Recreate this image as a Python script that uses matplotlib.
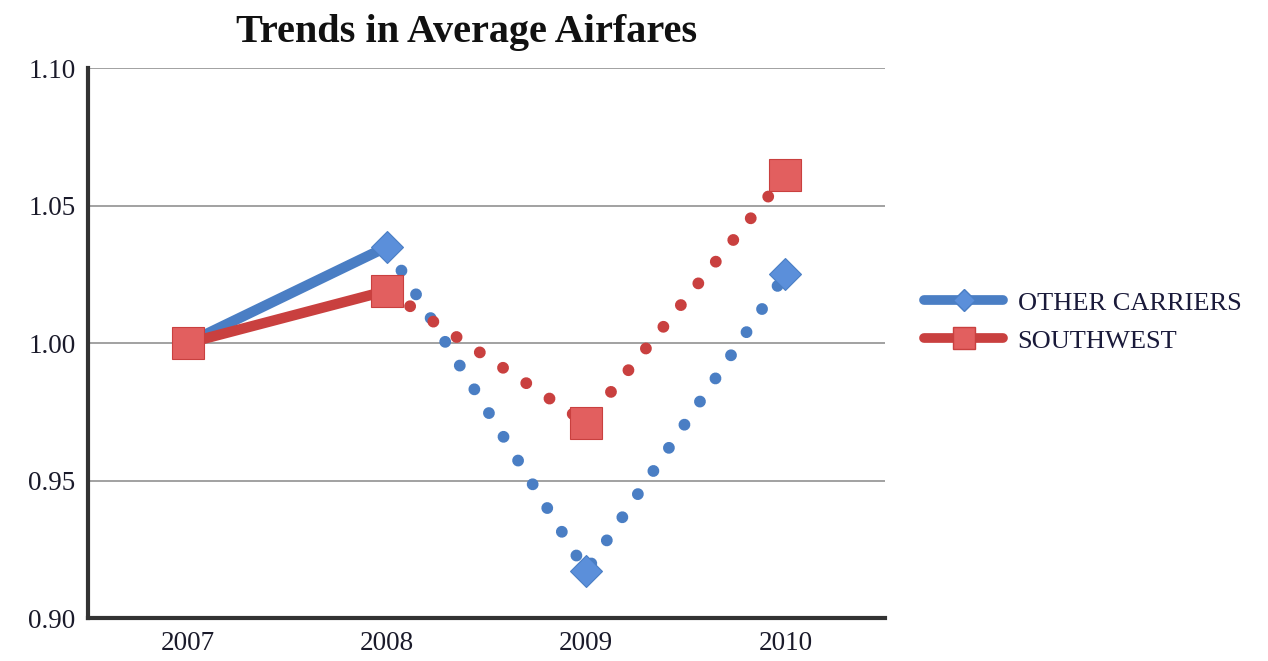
import matplotlib
matplotlib.use("Agg")
import matplotlib.pyplot as plt
from matplotlib.lines import Line2D

years = ["2007", "2008", "2009", "2010"]
other_carriers = [1.000, 1.035, 0.917, 1.025]
southwest = [1.000, 1.019, 0.971, 1.061]
yticks = [0.90, 0.95, 1.00, 1.05, 1.10]

serif = ["Liberation Serif", "DejaVu Serif"]
plt.rcParams["font.family"] = serif

fig = plt.figure(figsize=(12.68, 6.61), dpi=100)
ax = fig.add_axes([0.0694, 0.065, 0.6285, 0.832])

blue_line = "#4A7EC4"
blue_mark = "#5B8FDA"
red_line = "#C9403F"
red_mark = "#E25F5F"

x = list(range(len(years)))
series = [
    (other_carriers, blue_line, blue_mark, "D", 16, "OTHER CARRIERS"),
    (southwest, red_line, red_mark, "s", 23, "SOUTHWEST"),
]

for vals, lc, mc, mk, ms, lab in series:
    ax.plot(x[:2], vals[:2], color=lc, lw=7.5, solid_capstyle="round", zorder=3)
    ax.plot(x[1:], vals[1:], color=lc, lw=8.5, linestyle=(0, (0.01, 2.35)),
            dash_capstyle="round", zorder=3)
for vals, lc, mc, mk, ms, lab in series:
    ax.plot(x, vals, linestyle="none", marker=mk, markersize=ms,
            markerfacecolor=mc, markeredgecolor=lc, markeredgewidth=0.8, zorder=4)

ax.set_xlim(-0.5, 3.5)
ax.set_ylim(0.90, 1.10)
ax.set_yticks(yticks)
ax.set_yticklabels([f"{v:.2f}" for v in yticks])
ax.set_xticks(x)
ax.set_xticklabels(years)
ax.tick_params(axis="both", length=0, labelsize=19.5, labelcolor="#1a1a2a", pad=9)
ax.tick_params(axis="x", pad=9)
ax.yaxis.grid(True, color="#9a9a9a", lw=1.3)
ax.set_axisbelow(True)
for s in ["top", "right"]:
    ax.spines[s].set_visible(False)
for s in ["left", "bottom"]:
    ax.spines[s].set_color("#333333")
    ax.spines[s].set_linewidth(3)

fig.text(0.368, 0.951, "Trends in Average Airfares", ha="center", va="center",
         fontsize=29, fontweight="bold", color="#111111")

handles = [Line2D([0], [0], color=lc, lw=7, solid_capstyle="round", marker=mk,
                  markersize=ms * 0.72, markerfacecolor=mc, markeredgecolor=lc)
           for vals, lc, mc, mk, ms, lab in series]
labels = [s[5] for s in series]
fig.legend(handles, labels, loc="center left", bbox_to_anchor=(0.71, 0.513),
           frameon=False, fontsize=19, handlelength=3.0, labelspacing=0.55,
           handletextpad=0.55, labelcolor="#1a1a3a")

fig.savefig("out.png", dpi=100)
